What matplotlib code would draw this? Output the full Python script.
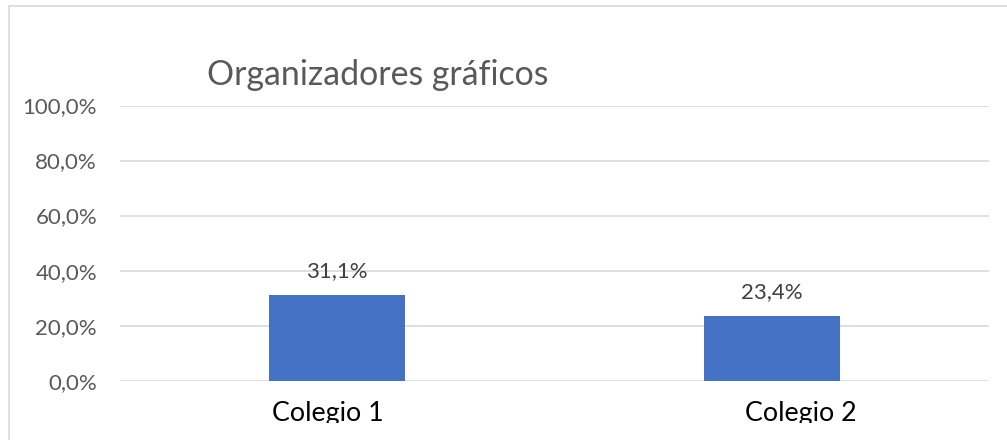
import matplotlib.pyplot as plt
from matplotlib.patches import Rectangle
from matplotlib.ticker import FuncFormatter
from matplotlib.transforms import Bbox, TransformedBbox

categories = ['Colegio 1', 'Colegio 2']
values = [31.1, 23.4]
y_ticks = [0, 20, 40, 60, 80, 100]

plt.rcParams['font.family'] = ['Lato', 'DejaVu Sans']

W, H = 1007, 440
fig = plt.figure(figsize=(W / 100, H / 100), dpi=100)
ax = fig.add_axes([120 / W, (H - 380.7) / H, 869 / W, 275.2 / H])

x = list(range(len(categories)))
bars = ax.bar(x, values, width=0.313, color='#4472C4', zorder=3)

for b, v in zip(bars, values):
    ax.annotate(('%.1f%%' % v).replace('.', ','),
                (b.get_x() + b.get_width() / 2, v),
                xytext=(0, 13), textcoords='offset points',
                ha='center', va='baseline', fontsize=16, color='#404040')

ax.set_xlim(-0.5, 1.5)
ax.set_ylim(0, 100)
ax.set_yticks(y_ticks)
ax.yaxis.set_major_formatter(FuncFormatter(lambda v, p: ('%.1f%%' % v).replace('.', ',')))
ax.set_xticks([])
ax.tick_params(axis='y', length=0, pad=16.5, labelsize=16, labelcolor='#595959')
ax.grid(axis='y', color='#D9D9D9', linewidth=1.2, zorder=0)
for s in ax.spines.values():
    s.set_visible(False)

# category labels, slightly shifted like the original, clipped at the bottom
clip = TransformedBbox(Bbox([[0, 17 / H], [1, 1]]), fig.transFigure)
shifts = [-6.5, 20.9]
for xi, lab, dx in zip(x, categories, shifts):
    t = ax.annotate(lab, (xi, 0), xycoords=('data', 'axes fraction'),
                    xytext=(dx, -29), textcoords='offset points',
                    ha='center', va='baseline', fontsize=19.3, color='black',
                    annotation_clip=False)
    t.set_clip_box(clip)
    t.set_clip_on(True)

fig.text(207 / W, (H - 85) / H, 'Organizadores gráficos', fontsize=24.4,
         color='#595959', ha='left', va='baseline')

fig.add_artist(Rectangle((9 / W, -0.1), 1.2, (H - 6) / H + 0.1, transform=fig.transFigure,
                         fill=False, edgecolor='#D9D9D9', linewidth=1.2))

fig.savefig('out.png', dpi=100)
